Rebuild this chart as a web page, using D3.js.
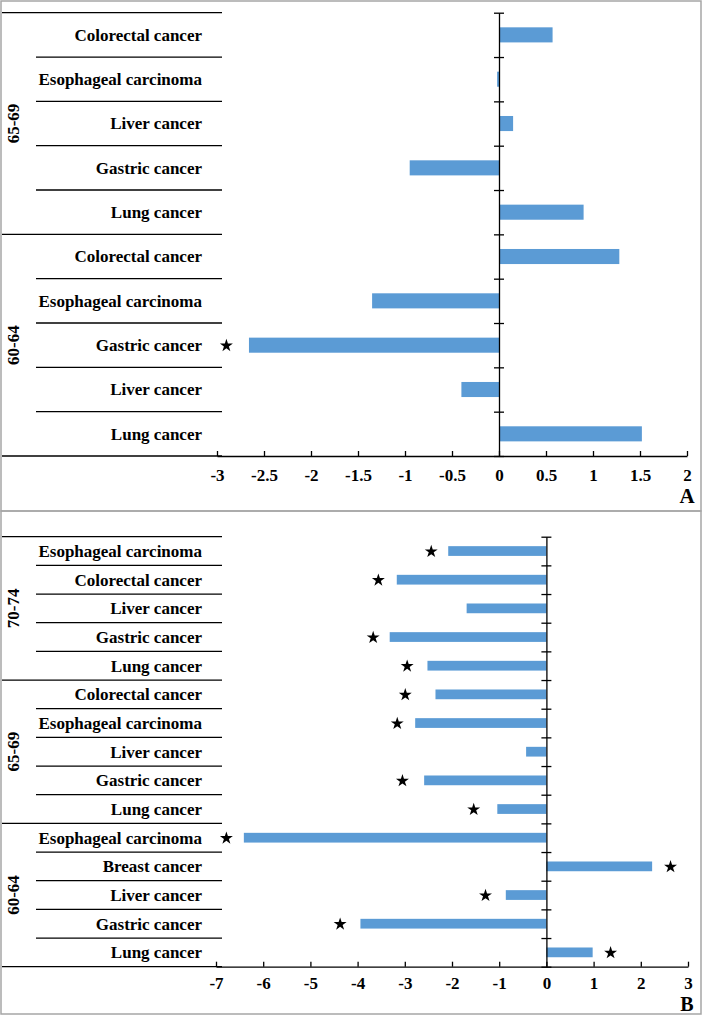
<!DOCTYPE html>
<html>
<head>
<meta charset="utf-8">
<title>Cancer rows</title>
<script src="https://cdn.jsdelivr.net/npm/d3@7/dist/d3.min.js"></script>
<style>
  * { margin: 0; padding: 0; }
  body { background: #fff; }
  svg text { font-family: "Liberation Serif", "Times New Roman", serif; font-weight: bold; fill: #000; }
</style>
</head>
<body>
<div id="show"></div>
<script>
// panel A, rows top to bottom
var labelsA = ["Colorectal cancer", "Esophageal carcinoma", "Liver cancer", "Gastric cancer", "Lung cancer",
               "Colorectal cancer", "Esophageal carcinoma", "Gastric cancer", "Liver cancer", "Lung cancer"];
var groupsA = ["65-69", "65-69", "65-69", "65-69", "65-69",
               "60-64", "60-64", "60-64", "60-64", "60-64"];
var valuesA = [0.57, -0.02, 0.15, -0.95, 0.90, 1.28, -1.35, -2.66, -0.40, 1.52];
var starsA  = [null, null, null, null, null, null, null, -2.90, null, null];
var ticksA  = [-3, -2.5, -2, -1.5, -1, -0.5, 0, 0.5, 1, 1.5, 2];

// panel B, rows top to bottom
var labelsB = ["Esophageal carcinoma", "Colorectal cancer", "Liver cancer", "Gastric cancer", "Lung cancer",
               "Colorectal cancer", "Esophageal carcinoma", "Liver cancer", "Gastric cancer", "Lung cancer",
               "Esophageal carcinoma", "Breast cancer", "Liver cancer", "Gastric cancer", "Lung cancer"];
var groupsB = ["70-74", "70-74", "70-74", "70-74", "70-74",
               "65-69", "65-69", "65-69", "65-69", "65-69",
               "60-64", "60-64", "60-64", "60-64", "60-64"];
var valuesB = [-2.08, -3.17, -1.69, -3.32, -2.52, -2.35, -2.78, -0.43, -2.59, -1.04, -6.41, 2.24, -0.86, -3.94, 0.98];
var starsB  = [-2.44, -3.56, null, -3.67, -2.95, -2.99, -3.16, null, -3.05, -1.54, -6.78, 2.63, -1.29, -4.37, 1.36];
var ticksB  = [-7, -6, -5, -4, -3, -2, -1, 0, 1, 2, 3];

var svg = d3.select("#show").append("svg")
            .attr("width", 704)
            .attr("height", 1015);

function drawPanel(p) {
  var g = svg.append("g").attr("class", "panel");
  var n = p.labels.length;

  // frame
  g.append("rect")
   .attr("x", 1).attr("y", p.frameTop)
   .attr("width", 700).attr("height", p.frameH)
   .attr("fill", "none").attr("stroke", "#a6a6a6").attr("stroke-width", 1.5);

  var x = d3.scaleLinear().domain([p.ticks[0], p.ticks[p.ticks.length - 1]]).range([p.xLeft, p.xRight]);
  var yEdge = d3.scaleLinear().domain([0, n]).range([p.top, p.bottom]);
  var y = d3.scaleBand().domain(d3.range(n)).range([p.top, p.bottom])
            .paddingInner(0.66).paddingOuter(0.33);

  // bars
  g.selectAll("rect.bar").data(p.values).enter().append("rect")
   .attr("class", "bar")
   .attr("x", function(d){ return x(Math.min(0, d)); })
   .attr("y", function(d, i){ return y(i); })
   .attr("width", function(d){ return Math.abs(x(d) - x(0)); })
   .attr("height", y.bandwidth())
   .attr("fill", "#5b9bd5");

  // stars
  var star = d3.symbol().type(d3.symbolStar).size(52);
  var starRows = [];
  p.stars.forEach(function(s, i){ if (s !== null) starRows.push({ v: s, i: i }); });
  g.selectAll("path.star").data(starRows).enter().append("path")
   .attr("class", "star")
   .attr("d", star)
   .attr("transform", function(d){
      return "translate(" + x(d.v) + "," + (y(d.i) + y.bandwidth() / 2 + 0.5) + ")";
   })
   .attr("fill", "#000");

  // row separator lines
  var edges = d3.range(n + 1);
  g.selectAll("line.sep").data(edges).enter().append("line")
   .attr("class", "sep")
   .attr("x1", function(i){
      var groupEdge = i === 0 || i === n || p.groups[i] !== p.groups[i - 1];
      return groupEdge ? 2 : 36;
   })
   .attr("x2", 222)
   .attr("y1", function(i){ return yEdge(i); })
   .attr("y2", function(i){ return yEdge(i); })
   .attr("stroke", "#000").attr("stroke-width", 1.3);

  // category labels
  g.selectAll("text.cat").data(p.labels).enter().append("text")
   .attr("class", "cat")
   .attr("x", 202)
   .attr("y", function(d, i){ return y(i) + y.bandwidth() / 2; })
   .attr("dy", "0.35em")
   .attr("text-anchor", "end")
   .style("font-size", "17px")
   .text(function(d){ return d; });

  // group labels
  var groupNames = [];
  p.groups.forEach(function(gr){ if (groupNames.indexOf(gr) < 0) groupNames.push(gr); });
  groupNames.forEach(function(gr){
    var first = p.groups.indexOf(gr), last = p.groups.lastIndexOf(gr);
    var cy = (yEdge(first) + yEdge(last + 1)) / 2;
    g.append("text")
     .attr("transform", "translate(13," + cy + ") rotate(-90)")
     .attr("dy", "0.35em")
     .attr("text-anchor", "middle")
     .style("font-size", "17px")
     .text(gr);
  });

  // x axis
  var xAxis = d3.axisBottom(x)
                .tickValues(p.ticks)
                .tickFormat(function(d){ return String(d); })
                .tickSizeInner(-5).tickSizeOuter(0).tickPadding(p.tickPad);
  var ax = g.append("g").attr("transform", "translate(0," + p.bottom + ")").call(xAxis);
  ax.select(".domain").attr("stroke", "#000").attr("stroke-width", 1.3);
  ax.selectAll(".tick line").attr("stroke", "#000").attr("stroke-width", 1.3);
  ax.selectAll(".tick text").style("font-size", "17px").style("font-family", null);

  // zero axis with ticks at row boundaries
  var yAxis = d3.axisLeft(yEdge).tickValues(edges).tickFormat("").tickSizeOuter(0);
  var ay = g.append("g").attr("transform", "translate(" + x(0) + ",0)").call(yAxis);
  ay.select(".domain").attr("stroke", "#000").attr("stroke-width", 1.3);
  ay.selectAll(".tick line").attr("x1", -5).attr("x2", 5).attr("stroke", "#000").attr("stroke-width", 1.3);

  // panel letter
  g.append("text")
   .attr("x", 687).attr("y", p.letterY)
   .attr("text-anchor", "middle")
   .style("font-size", p.letterSize + "px")
   .text(p.letter);
}

drawPanel({
  labels: labelsA, groups: groupsA, values: valuesA, stars: starsA, ticks: ticksA,
  frameTop: 1, frameH: 510, top: 12.7, bottom: 456, xLeft: 217, xRight: 687, tickPad: 13,
  letter: "A", letterY: 503, letterSize: 21
});

drawPanel({
  labels: labelsB, groups: groupsB, values: valuesB, stars: starsB, ticks: ticksB,
  frameTop: 511, frameH: 503, top: 536.7, bottom: 966.7, xLeft: 216, xRight: 688, tickPad: 10,
  letter: "B", letterY: 1010.5, letterSize: 20
});
</script>
</body>
</html>
